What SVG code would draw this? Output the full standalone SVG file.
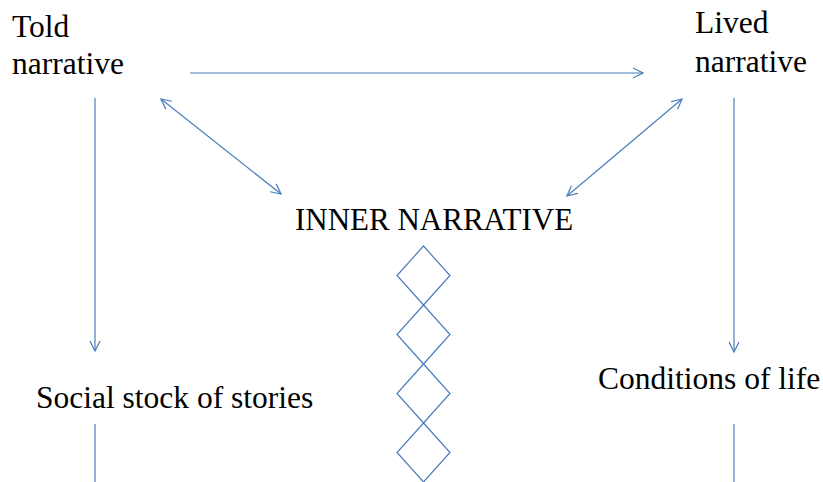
<svg xmlns="http://www.w3.org/2000/svg" width="823" height="482" viewBox="0 0 823 482">
<style>
text{font-family:'Liberation Serif','Times New Roman',serif;font-size:31.5px;fill:#000}
.c{stroke:#4a7ebb;stroke-width:1.2;fill:none}
</style>
<defs>
<marker id="a" viewBox="0 0 12 12" refX="11" refY="6" markerWidth="12" markerHeight="12" markerUnits="userSpaceOnUse" orient="auto-start-reverse">
<path d="M1,1 L11,6 L1,11" fill="none" stroke="#4a7ebb" stroke-width="1.2"/>
</marker>
</defs>
<rect width="823" height="482" fill="#fff"/>
<g id="told"><text x="12" y="37">Told</text><text x="12" y="74">narrative</text></g>
<g id="lived"><text x="695" y="33">Lived</text><text x="695" y="72">narrative</text></g>
<g id="inner"><text x="295" y="230" style="font-size:31px">INNER NARRATIVE</text></g>
<g id="social"><text x="36" y="408">Social stock of stories</text></g>
<g id="conditions"><text x="598" y="389">Conditions of life</text></g>
<g id="chain">
<path class="c" d="M423.5,246 L450,275.5 L423.5,305 L397,275.5 Z"/>
<path class="c" d="M423.5,305 L450,334.5 L423.5,364 L397,334.5 Z"/>
<path class="c" d="M423.5,364 L450,393.5 L423.5,423 L397,393.5 Z"/>
<path class="c" d="M423.5,423 L450,452.5 L423.5,482 L397,452.5 Z"/>
</g>
<g id="connectors">
<line class="c" x1="190" y1="73" x2="643" y2="73" marker-end="url(#a)"/>
<line class="c" x1="95" y1="98" x2="95" y2="351" marker-end="url(#a)"/>
<line class="c" x1="734" y1="98" x2="734" y2="352" marker-end="url(#a)"/>
<line class="c" x1="161" y1="99" x2="281" y2="194" marker-start="url(#a)" marker-end="url(#a)"/>
<line class="c" x1="682" y1="99" x2="567" y2="196" marker-start="url(#a)" marker-end="url(#a)"/>
<line class="c" x1="95" y1="424" x2="95" y2="482"/>
<line class="c" x1="734" y1="424" x2="734" y2="482"/>
</g>
</svg>
